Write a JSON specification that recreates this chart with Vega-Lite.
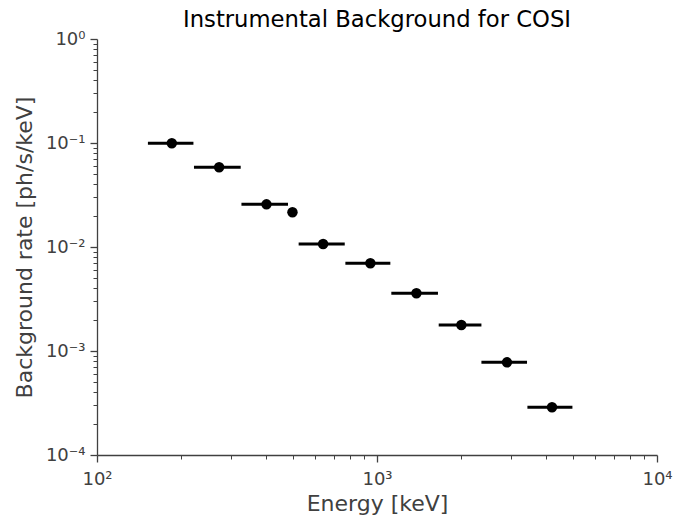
{
  "$schema": "https://vega.github.io/schema/vega-lite/v6.json",
  "width": 560,
  "height": 416,
  "autosize": {"type": "none"},
  "padding": {"left": 97, "top": 39, "right": 16, "bottom": 64},
  "background": "white",
  "title": {"text": "Instrumental Background for COSI", "font": "DejaVu Sans", "fontSize": 22.7, "fontWeight": "normal", "color": "#000000", "anchor": "middle", "frame": "group", "baseline": "alphabetic", "offset": 11, "dy": 31},
  "config": {
    "view": {"stroke": null},
    "axis": {
      "labelFont": "DejaVu Sans",
      "titleFont": "DejaVu Sans",
      "labelFontSize": 18,
      "titleFontSize": 22,
      "titleFontWeight": "normal",
      "labelColor": "#404040",
      "titleColor": "#404040",
      "domainColor": "#404040",
      "tickColor": "#404040",
      "domainWidth": 1.3,
      "grid": false,
      "labelOverlap": false,
      "labelBound": false,
      "labelFlush": false
    }
  },
  "data": {
    "values": [
      {"energy": 185, "emin": 152, "emax": 221, "rate": 0.0993},
      {"energy": 273, "emin": 222, "emax": 326, "rate": 0.0584},
      {"energy": 403, "emin": 328, "emax": 481, "rate": 0.0257},
      {"energy": 499, "emin": 499, "emax": 499, "rate": 0.0216},
      {"energy": 642, "emin": 525, "emax": 767, "rate": 0.0107},
      {"energy": 947, "emin": 771, "emax": 1116, "rate": 0.00697},
      {"energy": 1383, "emin": 1125, "emax": 1651, "rate": 0.00359},
      {"energy": 2001, "emin": 1661, "emax": 2360, "rate": 0.00178},
      {"energy": 2912, "emin": 2360, "emax": 3434, "rate": 0.000778},
      {"energy": 4217, "emin": 3445, "emax": 4988, "rate": 0.000288}
    ]
  },
  "layer": [
    {
      "mark": {"type": "rule", "color": "black", "strokeWidth": 3, "strokeCap": "butt"},
      "encoding": {
        "x": {
          "field": "emin", "type": "quantitative",
          "scale": {"type": "log", "domain": [100, 10000], "nice": false},
          "axis": {
            "title": "Energy [keV]",
            "values": [100, 200, 300, 400, 500, 600, 700, 800, 900, 1000, 2000, 3000, 4000, 5000, 6000, 7000, 8000, 9000, 10000],
            "labelExpr": "datum.value==100?'10²':datum.value==1000?'10³':datum.value==10000?'10⁴':''",
            "tickSize": {"condition": {"test": "indexof([100,1000,10000], datum.value) >= 0", "value": 7}, "value": 4},
            "tickWidth": {"condition": {"test": "indexof([100,1000,10000], datum.value) >= 0", "value": 1.3}, "value": 1},
            "labelPadding": 8,
            "titleX": 280,
            "titleY": 48,
            "titleAnchor": "middle",
            "titleAlign": "center",
            "titleBaseline": "middle"
          }
        },
        "x2": {"field": "emax"},
        "y": {
          "field": "rate", "type": "quantitative",
          "scale": {"type": "log", "domain": [0.0001, 1], "nice": false},
          "axis": {
            "title": "Background rate [ph/s/keV]",
            "values": [0.0001, 0.0002, 0.0003, 0.0004, 0.0005, 0.0006, 0.0007, 0.0008, 0.0009, 0.001, 0.002, 0.003, 0.004, 0.005, 0.006, 0.007, 0.008, 0.009, 0.01, 0.02, 0.03, 0.04, 0.05, 0.06, 0.07, 0.08, 0.09, 0.1, 0.2, 0.3, 0.4, 0.5, 0.6, 0.7, 0.8, 0.9, 1],
            "labelExpr": "datum.value==1?'10⁰':datum.value==0.1?'10⁻¹':datum.value==0.01?'10⁻²':datum.value==0.001?'10⁻³':datum.value==0.0001?'10⁻⁴':''",
            "tickSize": {"condition": {"test": "indexof([1,0.1,0.01,0.001,0.0001], datum.value) >= 0", "value": 7}, "value": 4},
            "tickWidth": {"condition": {"test": "indexof([1,0.1,0.01,0.001,0.0001], datum.value) >= 0", "value": 1.3}, "value": 1},
            "labelPadding": 5,
            "titleX": -73,
            "titleY": 208,
            "titleAngle": -90,
            "titleAlign": "center",
            "titleBaseline": "middle"
          }
        }
      }
    },
    {
      "mark": {"type": "point", "filled": true, "color": "black", "opacity": 1, "size": 110},
      "encoding": {
        "x": {"field": "energy", "type": "quantitative"},
        "y": {"field": "rate", "type": "quantitative"}
      }
    }
  ]
}
